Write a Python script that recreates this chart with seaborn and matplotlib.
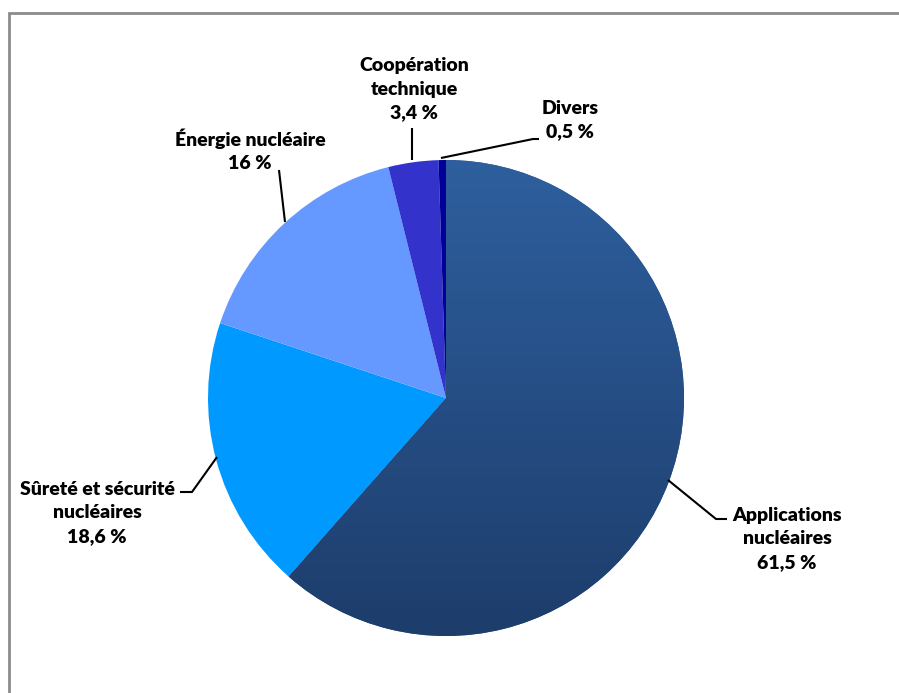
import numpy as np
import matplotlib
matplotlib.use("Agg")
import matplotlib.pyplot as plt
from matplotlib.colors import LinearSegmentedColormap
import seaborn as sns

# Budget shares by programme area (per cent)
categories = ["Applications\nnucléaires", "Sûreté et sécurité\nnucléaires",
              "Énergie nucléaire", "Coopération\ntechnique", "Divers"]
shares = [61.5, 18.6, 16.0, 3.4, 0.5]
share_labels = ["61,5 %", "18,6 %", "16 %", "3,4 %", "0,5 %"]
colors = ["#2A5690", "#0099FF", "#6699FF", "#3333CC", "#000099"]

sns.set_theme(style="white")
plt.rcParams["font.family"] = ["Lato", "DejaVu Sans"]

W, H = 899, 693
fig = plt.figure(figsize=(W / 100, H / 100), dpi=100)
ax = fig.add_axes([0, 0, 1, 1])

cx, cy, r = 446, H - 398, 238
wedges, _ = ax.pie(shares, colors=colors, startangle=90, counterclock=False,
                   center=(cx, cy), radius=r, frame=True,
                   wedgeprops=dict(linewidth=0))
ax.set_xlim(0, W)
ax.set_ylim(0, H)
ax.axis("off")

# vertical shading on the largest slice
cmap = LinearSegmentedColormap.from_list("app", ["#2E5F9E", "#1D3D6B"])
grad = np.linspace(0, 1, 256).reshape(-1, 1)
img = ax.imshow(grad, cmap=cmap, extent=(cx - r, cx + r, cy - r, cy + r),
                origin="upper", aspect="auto", zorder=wedges[0].get_zorder() + 0.1)
img.set_clip_path(wedges[0])

# chart-area frame (top and left edges fall inside the canvas)
ax.plot([8.5, 8.5, W + 5], [-5, H - 12.5, H - 12.5], color="#8C8C8C",
        linewidth=2, solid_joinstyle="miter", zorder=0)

# labels: (text x, text y, leader polyline in image coords)
placements = [
    (787, 539, [(668, 480), (716, 519), (727, 519)]),
    (97, 513, [(217, 457), (192, 492), (180, 492)]),
    (250, 150, [(285, 222), (279, 170)]),
    (414, 89, [(412, 160), (412, 128)]),
    (570, 120, [(441, 158), (533, 139), (539, 139)]),
]
for cat, lab, (tx, ty, pts) in zip(categories, share_labels, placements):
    ax.text(tx, H - ty, f"{cat}\n{lab}", ha="center", va="center",
            fontsize=14, fontweight="heavy", color="#000000", linespacing=1.45)
    xs, ys = zip(*pts)
    ax.plot(xs, [H - y for y in ys], color="black", linewidth=1.5,
            solid_capstyle="butt")

fig.savefig("out.png", dpi=100)
